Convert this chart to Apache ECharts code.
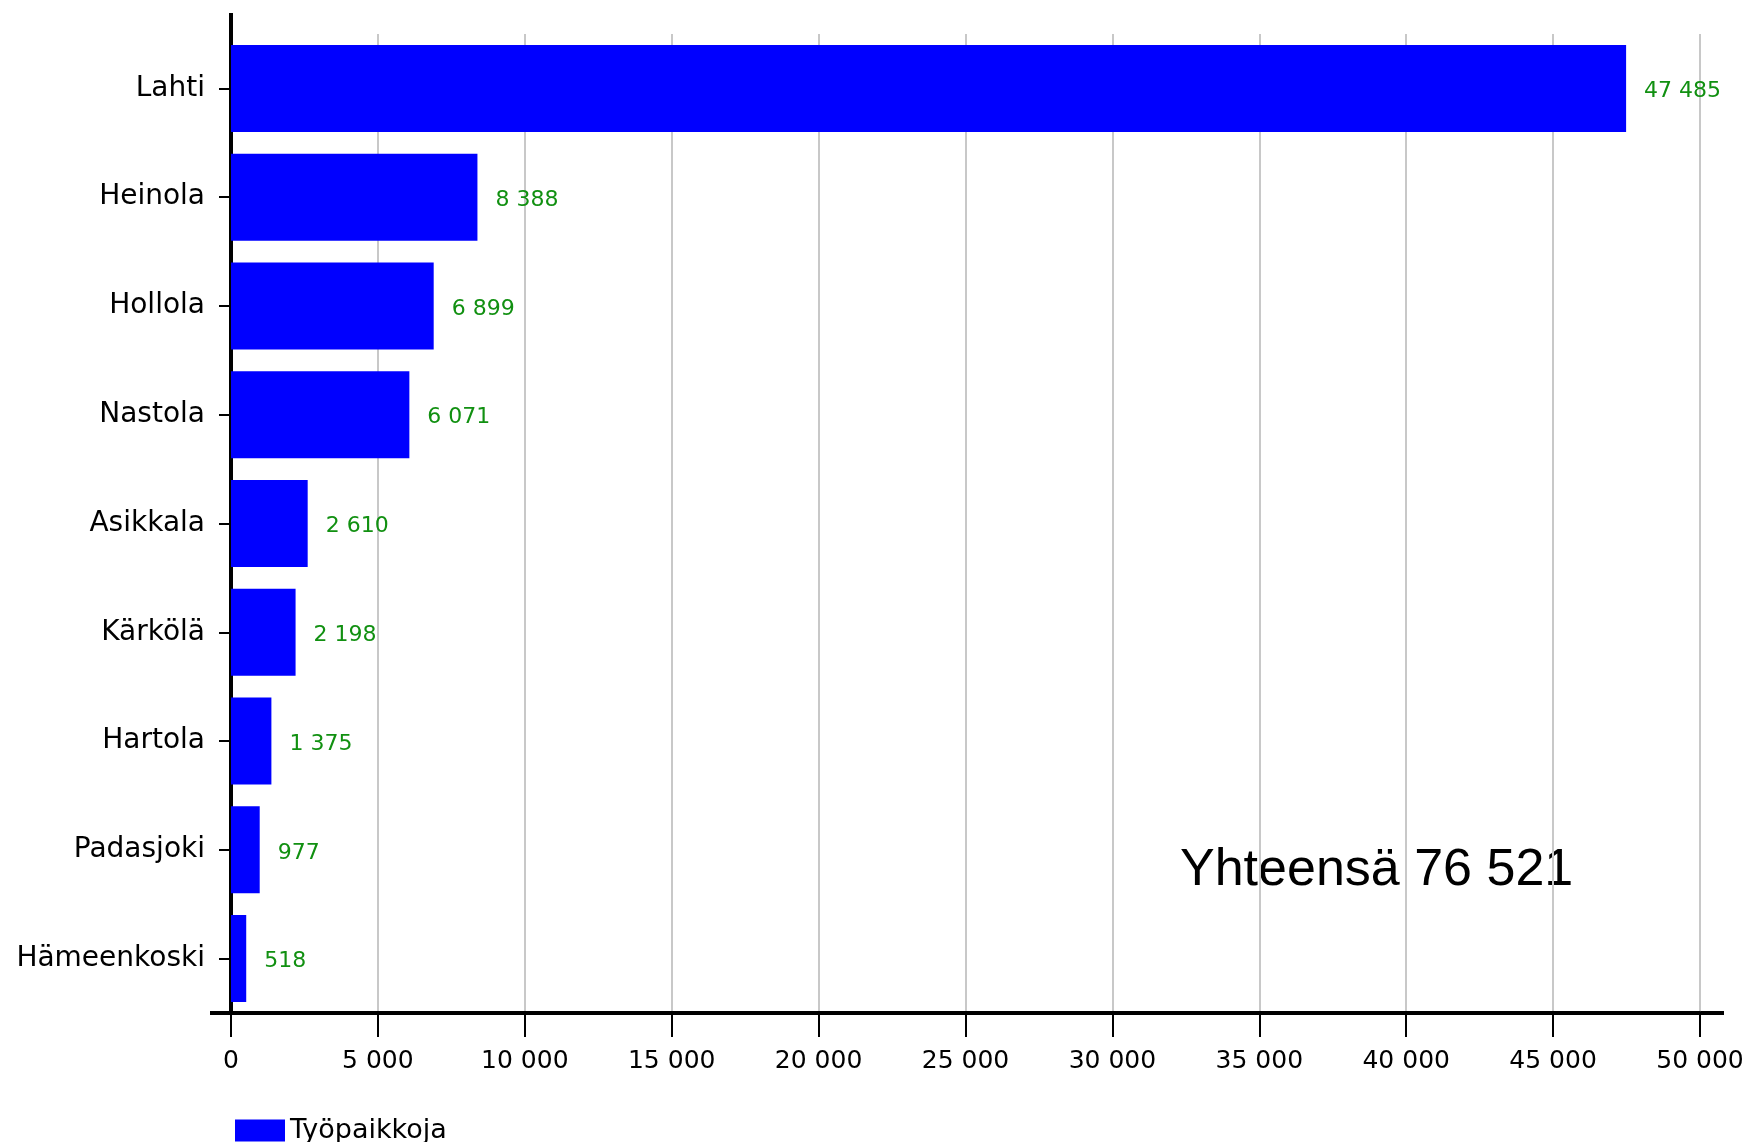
<!DOCTYPE html>
<html>
<head>
<meta charset="utf-8">
<script src="https://cdn.jsdelivr.net/npm/echarts@6/dist/echarts.min.js"></script>
<style>
  html, body { margin: 0; padding: 0; background: #fff; }
  #chart { width: 1749px; height: 1142px; }
</style>
</head>
<body>
<div id="chart"></div>
<script>
// Työpaikat kunnittain
var categories = ['Lahti', 'Heinola', 'Hollola', 'Nastola', 'Asikkala', 'Kärkölä', 'Hartola', 'Padasjoki', 'Hämeenkoski'];
var values = [47485, 8388, 6899, 6071, 2610, 2198, 1375, 977, 518];
var seriesName = 'Työpaikkoja';
var totalText = 'Yhteensä 76 521';

function fmt(n) {
  return String(n).replace(/\B(?=(\d{3})+(?!\d))/g, ' ');
}

var GL = 231, GR = 49, GT = 34, GB = 129;

var chart = echarts.init(document.getElementById('chart'));
chart.setOption({
  animation: false,
  textStyle: { fontFamily: 'DejaVu Sans' },
  grid: { left: GL, right: GR, top: GT, bottom: GB },
  legend: {
    data: [{ name: seriesName, icon: 'rect' }], left: 230, top: 1112, itemWidth: 50, itemHeight: 22, itemGap: 6,
    textStyle: { fontSize: 27, color: '#000', fontFamily: 'DejaVu Sans' }
  },
  graphic: [
    { type: 'line', shape: { x1: GL, y1: 13, x2: GL, y2: GT }, style: { stroke: '#000', lineWidth: 4 } },
    { type: 'line', shape: { x1: 210, y1: 1142 - GB, x2: GL, y2: 1142 - GB }, style: { stroke: '#000', lineWidth: 4 } },
    { type: 'line', shape: { x1: 1700, y1: 1142 - GB, x2: 1724, y2: 1142 - GB }, style: { stroke: '#000', lineWidth: 4 } },
    {
      type: 'text', left: 1180, top: 845,
      style: { text: totalText, fontSize: 52, fill: '#000', fontFamily: 'Liberation Sans' }
    }
  ],
  xAxis: {
    type: 'value', min: 0, max: 50000, interval: 5000,
    axisLine: { show: true, lineStyle: { color: '#000', width: 4 } },
    axisTick: { show: true, length: 24, lineStyle: { color: '#000', width: 2 } },
    axisLabel: { fontSize: 25, color: '#000', margin: 36, formatter: fmt },
    splitLine: { show: true, lineStyle: { color: '#c8c8c8', width: 2 } }
  },
  yAxis: {
    type: 'category', data: categories, inverse: true,
    axisLine: { show: true, lineStyle: { color: '#000', width: 4 } },
    axisTick: { show: true, alignWithLabel: true, length: 12, lineStyle: { color: '#000', width: 2 } },
    axisLabel: { fontSize: 28, color: '#000', margin: 26 }
  },
  series: [{
    name: seriesName, type: 'bar', data: values, barWidth: '80%',
    itemStyle: { color: '#0000ff', borderColor: '#000', borderWidth: 0 },
    label: {
      show: true, position: 'right', distance: 18, fontSize: 22, color: '#119011', offset: [0, 3],
      formatter: function (p) { return fmt(p.value); }
    }
  }]
});
</script>
</body>
</html>
